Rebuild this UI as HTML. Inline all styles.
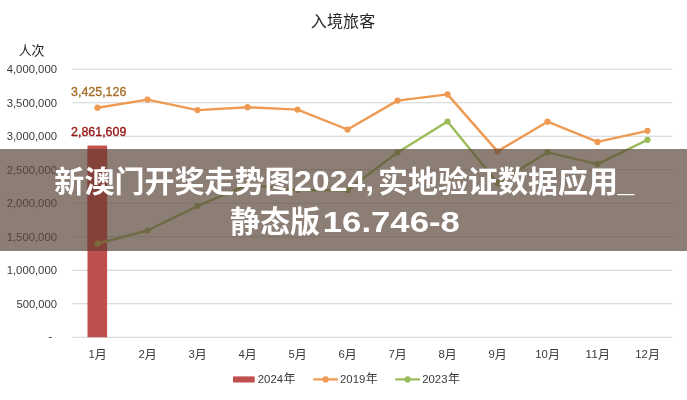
<!DOCTYPE html>
<html lang="zh">
<head>
<meta charset="utf-8">
<title>入境旅客</title>
<style>
html,body{margin:0;padding:0;background:#fff;}
body{width:687px;height:400px;overflow:hidden;position:relative;font-family:"Liberation Sans","Noto Sans CJK SC",sans-serif;}
svg{position:absolute;left:0;top:0;display:block;will-change:transform;}
svg text{font-family:"Liberation Sans","Noto Sans CJK SC",sans-serif;}
#banner{position:absolute;left:0;top:149.25px;width:687px;height:101.25px;background:rgba(91,71,59,.7);}
</style>
</head>
<body>
<svg width="687" height="400" viewBox="0 0 687 400" role="img" aria-label="入境旅客 (人次): 2024年, 2019年, 2023年, 1月–12月">
<title>入境旅客</title>
<g stroke="#d2d2d2" stroke-width="1" fill="none"><line x1="72.5" x2="672.5" y1="337.25" y2="337.25"/><line x1="72.5" x2="672.5" y1="303.75" y2="303.75"/><line x1="72.5" x2="672.5" y1="270.25" y2="270.25"/><line x1="72.5" x2="672.5" y1="236.75" y2="236.75"/><line x1="72.5" x2="672.5" y1="203.25" y2="203.25"/><line x1="72.5" x2="672.5" y1="169.75" y2="169.75"/><line x1="72.5" x2="672.5" y1="136.25" y2="136.25"/><line x1="72.5" x2="672.5" y1="102.75" y2="102.75"/><line x1="72.5" x2="672.5" y1="69.25" y2="69.25"/></g>
<rect x="87.5" y="145.522" width="19.6" height="191.728" fill="#c0504d"/>
<g fill="#ee9a52" stroke="#ee9a52"><polyline points="97.5,107.7 147.5,99.6 197.5,110.1 247.5,107.2 297.5,109.6 347.5,129.5 397.5,100.6 447.5,94.4 497.5,151.4 547.5,121.7 597.5,141.9 647.5,130.8" fill="none" stroke-width="2.4" stroke-linejoin="round" stroke-linecap="round"/><circle cx="97.5" cy="107.7" r="3.1" stroke="none"/><circle cx="147.5" cy="99.6" r="3.1" stroke="none"/><circle cx="197.5" cy="110.1" r="3.1" stroke="none"/><circle cx="247.5" cy="107.2" r="3.1" stroke="none"/><circle cx="297.5" cy="109.6" r="3.1" stroke="none"/><circle cx="347.5" cy="129.5" r="3.1" stroke="none"/><circle cx="397.5" cy="100.6" r="3.1" stroke="none"/><circle cx="447.5" cy="94.4" r="3.1" stroke="none"/><circle cx="497.5" cy="151.4" r="3.1" stroke="none"/><circle cx="547.5" cy="121.7" r="3.1" stroke="none"/><circle cx="597.5" cy="141.9" r="3.1" stroke="none"/><circle cx="647.5" cy="130.8" r="3.1" stroke="none"/></g>
<g fill="#9bbb59" stroke="#9bbb59"><polyline points="97.5,243.6 147.5,230.5 197.5,206.1 247.5,184.9 297.5,190 347.5,190.2 397.5,152.4 447.5,121.5 497.5,183.1 547.5,152.3 597.5,164.1 647.5,139.8" fill="none" stroke-width="2.4" stroke-linejoin="round" stroke-linecap="round"/><circle cx="97.5" cy="243.6" r="3.1" stroke="none"/><circle cx="147.5" cy="230.5" r="3.1" stroke="none"/><circle cx="197.5" cy="206.1" r="3.1" stroke="none"/><circle cx="247.5" cy="184.9" r="3.1" stroke="none"/><circle cx="297.5" cy="190" r="3.1" stroke="none"/><circle cx="347.5" cy="190.2" r="3.1" stroke="none"/><circle cx="397.5" cy="152.4" r="3.1" stroke="none"/><circle cx="447.5" cy="121.5" r="3.1" stroke="none"/><circle cx="497.5" cy="183.1" r="3.1" stroke="none"/><circle cx="547.5" cy="152.3" r="3.1" stroke="none"/><circle cx="597.5" cy="164.1" r="3.1" stroke="none"/><circle cx="647.5" cy="139.8" r="3.1" stroke="none"/></g>
<text x="52.4" y="340.15" font-size="11.6" text-anchor="end" fill="#3a3a3a" textLength="4.1" lengthAdjust="spacingAndGlyphs">-</text>
<text x="57" y="307.55" font-size="11.6" text-anchor="end" fill="#3a3a3a" textLength="40.6" lengthAdjust="spacingAndGlyphs">500,000</text>
<text x="57" y="274.05" font-size="11.6" text-anchor="end" fill="#3a3a3a" textLength="50.3" lengthAdjust="spacingAndGlyphs">1,000,000</text>
<text x="57" y="240.55" font-size="11.6" text-anchor="end" fill="#3a3a3a" textLength="50.3" lengthAdjust="spacingAndGlyphs">1,500,000</text>
<text x="57" y="207.05" font-size="11.6" text-anchor="end" fill="#3a3a3a" textLength="50.3" lengthAdjust="spacingAndGlyphs">2,000,000</text>
<text x="57" y="173.55" font-size="11.6" text-anchor="end" fill="#3a3a3a" textLength="50.3" lengthAdjust="spacingAndGlyphs">2,500,000</text>
<text x="57" y="140.05" font-size="11.6" text-anchor="end" fill="#3a3a3a" textLength="50.3" lengthAdjust="spacingAndGlyphs">3,000,000</text>
<text x="57" y="106.55" font-size="11.6" text-anchor="end" fill="#3a3a3a" textLength="50.3" lengthAdjust="spacingAndGlyphs">3,500,000</text>
<text x="57" y="73.05" font-size="11.6" text-anchor="end" fill="#3a3a3a" textLength="50.3" lengthAdjust="spacingAndGlyphs">4,000,000</text>
<text x="71" y="95.5" font-size="12.2" text-anchor="start" fill="#a86f28" stroke="#a86f28" stroke-width=".35" textLength="55.4" lengthAdjust="spacingAndGlyphs">3,425,126</text>
<text x="71" y="135.7" font-size="12.2" text-anchor="start" fill="#961515" stroke="#961515" stroke-width=".35" textLength="55.4" lengthAdjust="spacingAndGlyphs">2,861,609</text>
<text x="88.45" y="358.2" font-size="11.6" text-anchor="start" fill="#3a3a3a" textLength="6.3" lengthAdjust="spacingAndGlyphs">1</text>
<text x="94.75" y="358.8" font-size="12" fill="#3a3a3a">月</text>
<text x="138.45" y="358.2" font-size="11.6" text-anchor="start" fill="#3a3a3a" textLength="6.3" lengthAdjust="spacingAndGlyphs">2</text>
<text x="144.75" y="358.8" font-size="12" fill="#3a3a3a">月</text>
<text x="188.45" y="358.2" font-size="11.6" text-anchor="start" fill="#3a3a3a" textLength="6.3" lengthAdjust="spacingAndGlyphs">3</text>
<text x="194.75" y="358.8" font-size="12" fill="#3a3a3a">月</text>
<text x="238.45" y="358.2" font-size="11.6" text-anchor="start" fill="#3a3a3a" textLength="6.3" lengthAdjust="spacingAndGlyphs">4</text>
<text x="244.75" y="358.8" font-size="12" fill="#3a3a3a">月</text>
<text x="288.45" y="358.2" font-size="11.6" text-anchor="start" fill="#3a3a3a" textLength="6.3" lengthAdjust="spacingAndGlyphs">5</text>
<text x="294.75" y="358.8" font-size="12" fill="#3a3a3a">月</text>
<text x="338.45" y="358.2" font-size="11.6" text-anchor="start" fill="#3a3a3a" textLength="6.3" lengthAdjust="spacingAndGlyphs">6</text>
<text x="344.75" y="358.8" font-size="12" fill="#3a3a3a">月</text>
<text x="388.45" y="358.2" font-size="11.6" text-anchor="start" fill="#3a3a3a" textLength="6.3" lengthAdjust="spacingAndGlyphs">7</text>
<text x="394.75" y="358.8" font-size="12" fill="#3a3a3a">月</text>
<text x="438.45" y="358.2" font-size="11.6" text-anchor="start" fill="#3a3a3a" textLength="6.3" lengthAdjust="spacingAndGlyphs">8</text>
<text x="444.75" y="358.8" font-size="12" fill="#3a3a3a">月</text>
<text x="488.45" y="358.2" font-size="11.6" text-anchor="start" fill="#3a3a3a" textLength="6.3" lengthAdjust="spacingAndGlyphs">9</text>
<text x="494.75" y="358.8" font-size="12" fill="#3a3a3a">月</text>
<text x="535.3" y="358.2" font-size="11.6" text-anchor="start" fill="#3a3a3a" textLength="12.6" lengthAdjust="spacingAndGlyphs">10</text>
<text x="547.9" y="358.8" font-size="12" fill="#3a3a3a">月</text>
<text x="585.3" y="358.2" font-size="11.6" text-anchor="start" fill="#3a3a3a" textLength="12.6" lengthAdjust="spacingAndGlyphs">11</text>
<text x="597.9" y="358.8" font-size="12" fill="#3a3a3a">月</text>
<text x="635.3" y="358.2" font-size="11.6" text-anchor="start" fill="#3a3a3a" textLength="12.6" lengthAdjust="spacingAndGlyphs">12</text>
<text x="647.9" y="358.8" font-size="12" fill="#3a3a3a">月</text>
<text x="18.754" y="55.1" font-size="13" fill="#222" textLength="25.7" lengthAdjust="spacing">人次</text>
<text x="310.84" y="27" font-size="16" fill="#262626" textLength="64.4" lengthAdjust="spacing">入境旅客</text>
<rect x="233" y="376.4" width="21.7" height="6.1" fill="#c0504d"/>
<text x="257.8" y="382.8" font-size="11.6" text-anchor="start" fill="#3a3a3a" textLength="25.3" lengthAdjust="spacingAndGlyphs">2024</text>
<text x="283.6" y="383.4" font-size="12" fill="#3a3a3a">年</text>
<g stroke="#ee9a52" fill="#ee9a52"><line x1="314.3" x2="336.9" y1="379.4" y2="379.4" stroke-width="2.4" stroke-linecap="round"/><circle cx="325.6" cy="379.4" r="3.1" stroke="none"/></g>
<text x="340" y="382.8" font-size="11.6" text-anchor="start" fill="#3a3a3a" textLength="25.3" lengthAdjust="spacingAndGlyphs">2019</text>
<text x="365.8" y="383.4" font-size="12" fill="#3a3a3a">年</text>
<g stroke="#9bbb59" fill="#9bbb59"><line x1="396.3" x2="418.9" y1="379.4" y2="379.4" stroke-width="2.4" stroke-linecap="round"/><circle cx="407.6" cy="379.4" r="3.1" stroke="none"/></g>
<text x="422.2" y="382.8" font-size="11.6" text-anchor="start" fill="#3a3a3a" textLength="25.3" lengthAdjust="spacingAndGlyphs">2023</text>
<text x="448" y="383.4" font-size="12" fill="#3a3a3a">年</text>
</svg>
<div id="banner"></div>
<svg width="687" height="400" viewBox="0 0 687 400">
<defs><clipPath id="cb"><rect x="87.5" y="149.25" width="19.6" height="101.25"/></clipPath></defs>
<rect x="87.5" y="149.25" width="19.6" height="101.25" fill="#83413a"/>
<g clip-path="url(#cb)" stroke="#7d6a3c" fill="#7d6a3c"><line x1="97.5" y1="243.6" x2="147.5" y2="230.5" stroke-width="2.4"/><circle cx="97.5" cy="243.6" r="3.1" stroke="none"/></g>
</svg>
<svg width="687" height="400" viewBox="0 0 687 400" role="img" aria-label="新澳门开奖走势图2024,实地验证数据应用_静态版16.746-8">
<title>新澳门开奖走势图2024,实地验证数据应用_静态版16.746-8</title>
<g fill="#fff" font-weight="bold">
<text x="54.36" y="192" font-size="30" textLength="240.2" lengthAdjust="spacing">新澳门开奖走势图</text>
<text x="294.1" y="191.1" font-size="29" textLength="80" lengthAdjust="spacingAndGlyphs">2024,</text>
<text x="378.02" y="192" font-size="30" textLength="240" lengthAdjust="spacing">实地验证数据应用</text>
<text x="617.5" y="192" font-size="30">_</text>
<text x="229.95" y="232.1" font-size="30" textLength="90" lengthAdjust="spacing">静态版</text>
<text x="322.8" y="232.1" font-size="29" textLength="137" lengthAdjust="spacingAndGlyphs">16.746-8</text>
</g>
</svg>
</body>
</html>
